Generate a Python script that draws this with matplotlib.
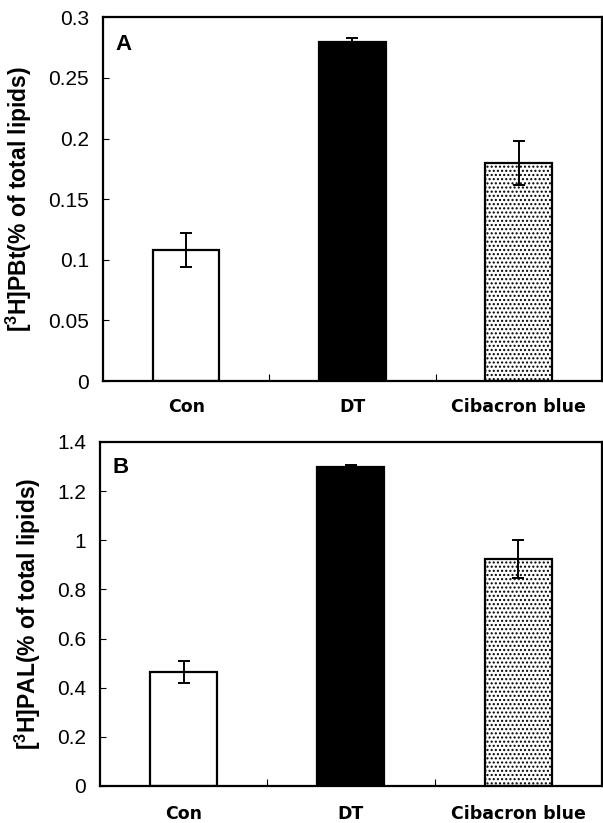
import matplotlib
matplotlib.use("Agg")
import matplotlib.pyplot as plt
import numpy as np

plt.rcParams['font.family'] = ['Liberation Sans', 'DejaVu Sans']
plt.rcParams['mathtext.fontset'] = 'custom'
plt.rcParams['mathtext.rm'] = 'Liberation Sans'
plt.rcParams['mathtext.bf'] = 'Liberation Sans:bold'
plt.rcParams['hatch.linewidth'] = 1.0

categories = ["Con", "DT", "Cibacron blue"]
pbt_values = [0.108, 0.280, 0.180]
pbt_errors = [0.014, 0.003, 0.018]
pal_values = [0.462, 1.297, 0.924]
pal_errors = [0.045, 0.010, 0.076]
panel_labels = ["A", "B"]
ylabels = [r"[$\mathbf{^3}$H]PBt(% of total lipids)", r"[$\mathbf{^3}$H]PAL(% of total lipids)"]
yticks_a = [0, 0.05, 0.1, 0.15, 0.2, 0.25, 0.3]
ytick_labels_a = ["0", "0.05", "0.1", "0.15", "0.2", "0.25", "0.3"]
yticks_b = [0, 0.2, 0.4, 0.6, 0.8, 1.0, 1.2, 1.4]
ytick_labels_b = ["0", "0.2", "0.4", "0.6", "0.8", "1", "1.2", "1.4"]

fig = plt.figure(figsize=(6.03, 8.23), dpi=100)
axA = fig.add_axes([0.171, 0.537, 0.827, 0.442])
axB = fig.add_axes([0.166, 0.045, 0.832, 0.418])

faces = ["white", "black", "white"]
hatches = [None, None, "...."]

def draw(ax, vals, errs, yt, ytl, label, ylab, xpad):
    x = np.arange(len(categories)) + 0.5
    for i in range(len(categories)):
        ax.bar(x[i], vals[i], width=0.4, color=faces[i], edgecolor="black",
               linewidth=1.6, hatch=hatches[i], zorder=2)
    ax.errorbar(x, vals, yerr=errs, fmt="none", ecolor="black", elinewidth=1.4,
                capsize=4, capthick=1.4, zorder=3)
    ax.set_xlim(0, 3)
    ax.set_ylim(yt[0], yt[-1])
    ax.set_yticks(yt)
    ax.set_yticklabels(ytl, fontsize=15)
    ax.set_xticks(x)
    ax.set_xticklabels(categories, fontsize=12.5, fontweight="bold", family="DejaVu Sans")
    ax.tick_params(axis="x", length=0, pad=xpad)
    ax.set_xticks([1, 2], minor=True)
    ax.tick_params(axis="x", which="minor", direction="in", length=5, width=0.8)
    ax.tick_params(axis="y", direction="in", length=4, width=0.8, pad=10)
    for s in ax.spines.values():
        s.set_linewidth(1.6)
    ax.set_ylabel(ylab, fontsize=16.5, fontweight="bold", labelpad=10)
    ax.text(0.025, 0.955, label, transform=ax.transAxes, fontsize=16,
            fontweight="bold", va="top", ha="left")

draw(axA, pbt_values, pbt_errors, yticks_a, ytick_labels_a, panel_labels[0], ylabels[0], 12)
draw(axB, pal_values, pal_errors, yticks_b, ytick_labels_b, panel_labels[1], ylabels[1], 14)

fig.savefig("out.png", dpi=100)
